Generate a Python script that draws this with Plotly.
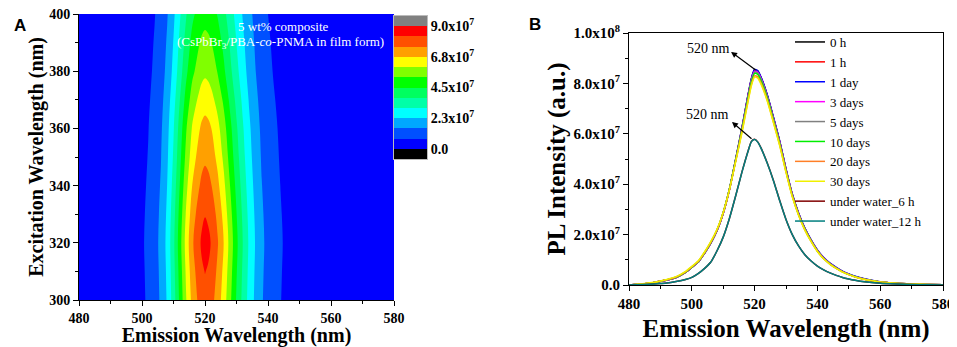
import plotly.graph_objects as go

# ---------------- Panel A data (values in units of 1e7) ----------------
em_grid = [480, 485, 490, 495, 498, 500, 502, 504, 506, 508, 510, 512, 514, 516, 518, 519, 520,
           521, 522, 524, 526, 528, 530, 532, 534, 536, 538, 540, 542, 544, 546, 548, 550, 555,
           560, 570, 580]
em_profile = [0.002, 0.01, 0.02, 0.04, 0.06, 0.08, 0.105, 0.145, 0.2, 0.29, 0.42, 0.58, 0.74, 0.87,
              0.95, 0.985, 1.0, 0.99, 0.965, 0.89, 0.79, 0.67, 0.55, 0.44, 0.34, 0.26, 0.195, 0.15,
              0.12, 0.095, 0.075, 0.06, 0.05, 0.03, 0.018, 0.006, 0.002]
ex_grid = [300, 310, 320, 330, 340, 350, 360, 370, 380, 390, 400]
ex_peak = [8.05, 8.27, 8.5, 8.22, 7.8, 7.37, 7.0, 6.45, 5.85, 5.45, 5.0]

levels = [0.0, 0.75, 1.5, 2.25, 3.0, 3.75, 4.5, 5.25, 6.0, 6.75, 7.5, 8.25, 9.0]
band_colors = ["#000000", "#0000ff", "#0050ff", "#00a8ff", "#00ffff", "#00ffa8", "#00ff60",
               "#00ff00", "#80ff00", "#ffff00", "#ffa000", "#ff5000", "#ff0000", "#808080"]
cbar_tickvals = [0.0, 2.25, 4.5, 6.75, 9.0]
cbar_ticktext = ["0.0", "2.3x10<sup>7</sup>", "4.5x10<sup>7</sup>", "6.8x10<sup>7</sup>", "9.0x10<sup>7</sup>"]

# ---------------- Panel B data (values in units of 1e7) ----------------
wl = [480, 485, 488, 490, 492, 495, 498, 500, 502, 504, 506, 508, 510, 512, 514, 516, 518, 519, 520,
      521, 522, 524, 526, 528, 530, 532, 534, 536, 538, 540, 542, 544, 546, 548, 550, 552, 555, 560,
      565, 570, 575, 580]
pl_0h = [0.0, 0.05, 0.1, 0.15, 0.2, 0.3, 0.5, 0.7, 0.9, 1.25, 1.65, 2.15, 2.85, 3.8, 5.0, 6.25, 7.6, 8.2, 8.55,
         8.5, 8.25, 7.55, 6.65, 5.7, 4.6, 3.6, 2.85, 2.25, 1.78, 1.38, 1.08, 0.86, 0.69, 0.54, 0.43, 0.34,
         0.24, 0.12, 0.07, 0.04, 0.02, 0.01]
pl_1h = [0.0, 0.05, 0.1, 0.15, 0.2, 0.3, 0.5, 0.7, 0.9, 1.25, 1.65, 2.15, 2.85, 3.8, 4.98, 6.22, 7.56, 8.16, 8.5,
         8.46, 8.22, 7.52, 6.62, 5.68, 4.58, 3.59, 2.84, 2.24, 1.77, 1.37, 1.07, 0.85, 0.68, 0.53, 0.42, 0.33,
         0.23, 0.12, 0.07, 0.04, 0.02, 0.01]
pl_1d = [0.0, 0.05, 0.1, 0.15, 0.2, 0.3, 0.5, 0.7, 0.9, 1.25, 1.65, 2.15, 2.86, 3.81, 5.01, 6.25, 7.6, 8.2, 8.55,
         8.5, 8.26, 7.56, 6.66, 5.71, 4.61, 3.61, 2.86, 2.26, 1.79, 1.39, 1.09, 0.87, 0.7, 0.55, 0.44, 0.35,
         0.25, 0.13, 0.07, 0.04, 0.02, 0.01]
pl_3d = [0.0, 0.05, 0.1, 0.15, 0.2, 0.3, 0.5, 0.7, 0.9, 1.25, 1.65, 2.15, 2.85, 3.79, 4.97, 6.2, 7.54, 8.14, 8.48,
         8.44, 8.2, 7.5, 6.6, 5.66, 4.57, 3.58, 2.83, 2.23, 1.77, 1.37, 1.07, 0.85, 0.68, 0.53, 0.42, 0.33,
         0.23, 0.12, 0.07, 0.04, 0.02, 0.01]
pl_5d = [0.0, 0.05, 0.1, 0.15, 0.2, 0.3, 0.5, 0.7, 0.9, 1.25, 1.65, 2.15, 2.85, 3.79, 4.96, 6.18, 7.51, 8.11, 8.45,
         8.41, 8.17, 7.48, 6.58, 5.64, 4.56, 3.57, 2.82, 2.23, 1.76, 1.36, 1.06, 0.84, 0.67, 0.53, 0.42, 0.33,
         0.23, 0.12, 0.07, 0.04, 0.02, 0.01]
pl_10d = [0.0, 0.05, 0.1, 0.15, 0.21, 0.31, 0.51, 0.71, 0.92, 1.27, 1.68, 2.18, 2.88, 3.82, 4.98, 6.18, 7.48, 8.07,
          8.4, 8.36, 8.12, 7.43, 6.54, 5.6, 4.53, 3.55, 2.8, 2.21, 1.75, 1.35, 1.05, 0.84, 0.67, 0.52, 0.41,
          0.33, 0.23, 0.12, 0.07, 0.04, 0.02, 0.01]
pl_20d = [0.0, 0.05, 0.1, 0.16, 0.21, 0.32, 0.52, 0.72, 0.93, 1.28, 1.69, 2.18, 2.87, 3.79, 4.93, 6.1, 7.38, 7.97,
          8.3, 8.26, 8.03, 7.35, 6.47, 5.55, 4.49, 3.52, 2.78, 2.19, 1.73, 1.34, 1.04, 0.83, 0.66, 0.52, 0.41,
          0.32, 0.23, 0.12, 0.07, 0.04, 0.02, 0.01]
pl_30d = [0.0, 0.06, 0.11, 0.16, 0.22, 0.33, 0.54, 0.74, 0.95, 1.3, 1.71, 2.2, 2.88, 3.79, 4.91, 6.06, 7.33, 7.92,
          8.25, 8.21, 7.98, 7.31, 6.44, 5.52, 4.47, 3.5, 2.77, 2.18, 1.72, 1.33, 1.04, 0.82, 0.66, 0.51, 0.41,
          0.32, 0.22, 0.12, 0.07, 0.04, 0.02, 0.01]
pl_w6h = [0.0, 0.02, 0.04, 0.06, 0.08, 0.14, 0.22, 0.3, 0.45, 0.65, 0.9, 1.35, 1.9, 2.65, 3.55, 4.5, 5.35, 5.7,
          5.78, 5.68, 5.45, 4.85, 4.15, 3.35, 2.6, 2.0, 1.55, 1.2, 0.95, 0.75, 0.6, 0.48, 0.38, 0.3, 0.24,
          0.19, 0.13, 0.07, 0.04, 0.02, 0.01, 0.0]
pl_w12h = [0.0, 0.02, 0.04, 0.06, 0.08, 0.14, 0.22, 0.3, 0.45, 0.65, 0.9, 1.35, 1.9, 2.65, 3.55, 4.49, 5.34, 5.69,
           5.77, 5.67, 5.44, 4.84, 4.14, 3.34, 2.6, 2.0, 1.55, 1.2, 0.95, 0.75, 0.6, 0.48, 0.38, 0.3, 0.24,
           0.19, 0.13, 0.07, 0.04, 0.02, 0.01, 0.0]

series_names = ["0 h", "1 h", "1 day", "3 days", "5 days", "10 days", "20 days", "30 days",
                "under water_6 h", "under water_12 h"]
series_values = [pl_0h, pl_1h, pl_1d, pl_3d, pl_5d, pl_10d, pl_20d, pl_30d, pl_w6h, pl_w12h]
series_colors = ["#000000", "#ff0000", "#0000ff", "#ff00ff", "#808080", "#00ee00", "#ff7f27",
                 "#f0f000", "#800000", "#007f7f"]
pl_tickvals = [0, 2, 4, 6, 8, 10]
pl_ticktext = ["0.0", "2.0x10<sup>7</sup>", "4.0x10<sup>7</sup>", "6.0x10<sup>7</sup>",
               "8.0x10<sup>7</sup>", "1.0x10<sup>8</sup>"]

SERIF = "Liberation Serif, Times New Roman, serif"
# the page body has an 8px margin: size the figure to the visible area
OFF = 8
FW, FH = 957 - OFF, 347 - OFF


def px(p):  # screen x pixel -> paper fraction
    return (p - OFF) / FW


def py(p):  # screen y pixel (from top) -> paper fraction
    return 1 - (p - OFF) / FH


fig = go.Figure()

# ---- Panel A contour ----
z = [[a * s for s in em_profile] for a in ex_peak]
step = levels[1] - levels[0]
contour_colors = band_colors[1:]
n = len(contour_colors) - 1
fig.add_trace(go.Contour(
    x=em_grid, y=ex_grid, z=z,
    autocontour=False,
    contours=dict(start=levels[1], end=levels[-1], size=step, coloring="fill", showlines=False),
    colorscale=[[k / n, c] for k, c in enumerate(contour_colors)],
    line=dict(width=0),
    showscale=False, showlegend=False, hoverinfo="skip",
    xaxis="x", yaxis="y",
))

# ---- Panel A colour key ----
edges = [levels[0] - step] + levels + [levels[-1] + step]
m = len(band_colors) - 1
fig.add_trace(go.Heatmap(
    x=[0, 1], y=edges, z=[[k] for k in range(len(band_colors))],
    zmin=0, zmax=m, colorscale=[[k / m, c] for k, c in enumerate(band_colors)],
    showscale=False, showlegend=False, hoverinfo="skip",
    xaxis="x3", yaxis="y3",
))

# ---- Panel B spectra ----
for name, vals, col in zip(series_names, series_values, series_colors):
    fig.add_trace(go.Scatter(
        x=wl, y=vals, name=name, mode="lines",
        line=dict(color=col, width=1.5, shape="spline", smoothing=0.6),
        xaxis="x2", yaxis="y2",
    ))

tickfont = dict(family=SERIF, size=14, color="black", weight="bold")
titlefont = dict(family=SERIF, size=20, color="black", weight="bold")
bigtitle = dict(family=SERIF, size=25, color="black", weight="bold")
b_tickfont = dict(family=SERIF, size=15, color="black", weight="bold")

fig.update_layout(
    width=FW, height=FH,
    margin=dict(l=0, r=0, t=0, b=0),
    paper_bgcolor="white", plot_bgcolor="white",
    xaxis=dict(domain=[px(79), px(394)], range=[480, 580], dtick=20, tick0=480, automargin=False,
               ticklabeloverflow="allow",
               ticks="outside", ticklen=5, tickcolor="black", showline=True, linecolor="black",
               linewidth=1, showgrid=False, zeroline=False, tickfont=tickfont,
               minor=dict(dtick=10, ticks="outside", ticklen=3, tickcolor="black"),
               title=dict(text="Emission Wavelength (nm)", font=titlefont, standoff=0),
               anchor="y"),
    yaxis=dict(domain=[py(300), py(14)], range=[300, 400], dtick=20, tick0=300, automargin=False,
               ticklabeloverflow="allow",
               ticks="outside", ticklen=5, tickcolor="black", showline=True, linecolor="black",
               linewidth=1, showgrid=False, zeroline=False, tickfont=tickfont,
               minor=dict(dtick=10, ticks="outside", ticklen=3, tickcolor="black"),
               title=dict(text="Excitation Wavelength (nm)", font=titlefont, standoff=0),
               anchor="x"),
    xaxis3=dict(domain=[px(394), px(427)], range=[0, 1], showticklabels=False, ticks="",
                automargin=False,
                showgrid=False, zeroline=False, showline=True, linecolor="#bbbbbb", mirror=True,
                anchor="y3"),
    yaxis3=dict(domain=[py(159), py(16)], range=[edges[0], edges[-1]], automargin=False,
                ticklabeloverflow="allow",
                side="right", tickvals=cbar_tickvals, ticktext=cbar_ticktext, ticks="",
                tickfont=dict(family=SERIF, size=14, color="black", weight="bold"),
                showgrid=False, zeroline=False, showline=True, linecolor="#bbbbbb", mirror=True,
                anchor="x3"),
    xaxis2=dict(domain=[px(629), px(943)], range=[480, 580], dtick=20, tick0=480, automargin=False,
                ticklabeloverflow="allow",
                ticks="outside", ticklen=5, tickcolor="black", showline=True, linecolor="black",
                linewidth=1.2, mirror=True, showgrid=False, zeroline=False,
                tickfont=b_tickfont,
                minor=dict(dtick=10, ticks="outside", ticklen=3, tickcolor="black"),
                title=dict(text="Emission Wavelength (nm)", font=bigtitle, standoff=8),
                anchor="y2"),
    yaxis2=dict(domain=[py(285), py(33)], range=[0, 10], tickvals=pl_tickvals, ticktext=pl_ticktext,
                automargin=False, ticklabeloverflow="allow",
                ticks="outside", ticklen=5, tickcolor="black", showline=True, linecolor="black",
                linewidth=1.2, mirror=True, showgrid=False, zeroline=False,
                tickfont=b_tickfont,
                minor=dict(dtick=1, ticks="outside", ticklen=3, tickcolor="black"),
                title=dict(text="PL Intensity (a.u.)", font=bigtitle, standoff=0),
                anchor="x2"),
    legend=dict(x=px(790), y=py(27), xanchor="left", yanchor="top",
                bgcolor="rgba(0,0,0,0)", borderwidth=0,
                font=dict(family=SERIF, size=13, color="black"), tracegroupgap=0),
    showlegend=True,
)

annotations = [
    dict(text="5 wt% composite", x=544.8, y=395.5, xref="x", yref="y", showarrow=False,
         font=dict(family=SERIF, size=13, color="white")),
    dict(text="(CsPbBr<sub>3</sub>/PBA-<i>co</i>-PNMA in film form)", x=544, y=390, xref="x", yref="y",
         showarrow=False, font=dict(family=SERIF, size=13, color="white")),
    dict(text="<b>A</b>", x=px(12), y=py(14), xref="paper", yref="paper", showarrow=False,
         font=dict(family="Liberation Sans", size=17, color="black")),
    dict(text="<b>B</b>", x=px(535), y=py(13), xref="paper", yref="paper", showarrow=False,
         font=dict(family="Liberation Sans", size=17, color="black")),
    dict(text="520 nm", x=505.2, y=9.37, xref="x2", yref="y2", showarrow=False,
         font=dict(family=SERIF, size=14, color="black")),
    dict(text="", x=512.5, y=9.25, ax=520.8, ay=8.49, xref="x2", yref="y2", axref="x2", ayref="y2",
         showarrow=True, arrowhead=2, arrowsize=1, arrowwidth=1.2, arrowcolor="black", standoff=0),
    dict(text="520 nm", x=505.0, y=6.75, xref="x2", yref="y2", showarrow=False,
         font=dict(family=SERIF, size=14, color="black")),
    dict(text="", x=512.8, y=6.47, ax=519.5, ay=5.75, xref="x2", yref="y2", axref="x2", ayref="y2",
         showarrow=True, arrowhead=2, arrowsize=1, arrowwidth=1.2, arrowcolor="black", standoff=0),
]
fig.update_layout(annotations=annotations)

fig.write_html("out.html")
